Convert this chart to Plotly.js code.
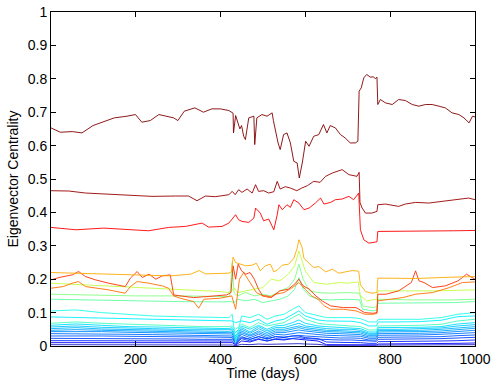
<!DOCTYPE html>
<html>
<head>
<meta charset="utf-8">
<script src="https://cdn.plot.ly/plotly-3.0.1.min.js"></script>
<style>html,body{margin:0;padding:0;background:#fff;}#chart{width:492px;height:381px;}</style>
</head>
<body>
<div id="chart"></div>
<script>
// ---- Top series ----
const xS1 = [1,23,51,74,100,130,150,180,200,215,235,255,270,290,300,315,340,360,380,400,420,430,431,436,446,450,455,459,467,479,481,486,498,510,522,525,536,541,549,557,565,573,581,586,593,601,609,620,632,643,651,659,671,683,694,706,718,724,727,732,738,745,753,761,765,769,771,777,789,805,820,836,852,868,883,899,915,930,946,962,974,986,994,1000];
const yS1 = [0.653,0.640,0.642,0.638,0.660,0.673,0.683,0.688,0.693,0.670,0.675,0.693,0.688,0.683,0.675,0.703,0.713,0.700,0.710,0.710,0.705,0.697,0.638,0.690,0.650,0.660,0.628,0.618,0.683,0.688,0.603,0.683,0.693,0.688,0.698,0.675,0.608,0.588,0.633,0.638,0.608,0.553,0.548,0.503,0.548,0.613,0.598,0.628,0.633,0.663,0.638,0.660,0.653,0.633,0.623,0.608,0.608,0.613,0.763,0.773,0.803,0.813,0.805,0.806,0.800,0.805,0.723,0.738,0.728,0.723,0.738,0.735,0.723,0.718,0.723,0.723,0.718,0.713,0.698,0.693,0.683,0.668,0.688,0.686];

const xS2 = [1,43,82,161,239,294,325,345,365,388,420,428,435,443,451,463,475,483,490,502,514,526,534,541,553,565,580,592,605,620,635,648,664,687,703,722,727,729,734,742,757,769,771,789,820,836,860,891,922,954,985,1000];
const yS2 = [0.465,0.464,0.458,0.453,0.448,0.449,0.449,0.435,0.449,0.447,0.453,0.463,0.453,0.468,0.460,0.470,0.458,0.483,0.463,0.465,0.458,0.462,0.493,0.470,0.477,0.473,0.465,0.473,0.480,0.493,0.490,0.508,0.518,0.528,0.513,0.508,0.520,0.430,0.413,0.398,0.398,0.403,0.423,0.425,0.418,0.425,0.430,0.428,0.433,0.436,0.443,0.438];

const xS3 = [1,60,125,161,231,278,318,357,372,404,420,436,443,451,467,479,483,494,502,514,526,534,538,546,557,565,573,585,597,609,624,636,644,660,671,687,703,714,722,726,730,738,750,765,769,771,805,860,900,950,1000];
const yS3 = [0.355,0.348,0.353,0.350,0.345,0.355,0.358,0.368,0.356,0.358,0.368,0.393,0.378,0.373,0.370,0.383,0.413,0.398,0.375,0.380,0.348,0.393,0.423,0.408,0.423,0.415,0.438,0.428,0.408,0.413,0.428,0.443,0.425,0.430,0.438,0.440,0.448,0.438,0.453,0.458,0.348,0.318,0.308,0.310,0.312,0.343,0.343,0.343,0.344,0.345,0.346];

// ---- Orange series ----
const xS4 = [1,100,200,280,330,350,365,400,420,426,430,436,448,460,475,485,494,506,518,526,535,546,561,573,581,585,592,597,609,620,632,648,664,679,695,711,726,730,742,757,769,771,805,860,922,960,1000];
const yS4 = [0.220,0.217,0.212,0.210,0.215,0.226,0.216,0.217,0.218,0.222,0.266,0.250,0.245,0.240,0.242,0.248,0.225,0.240,0.245,0.222,0.228,0.242,0.245,0.262,0.293,0.318,0.298,0.262,0.248,0.235,0.238,0.222,0.230,0.218,0.222,0.226,0.224,0.183,0.163,0.158,0.160,0.203,0.203,0.202,0.205,0.207,0.208];

const xS5 = [1,20,51,66,82,106,137,176,188,204,216,232,248,263,282,290,306,337,368,399,415,425,430,436,442,450,460,470,480,490,500,510,520,540,560,575,585,595,610,625,640,660,690,720,740,760,769,771,790,820,850,860,868,880,900,930,960,980,1000];
const yS5 = [0.198,0.205,0.213,0.223,0.208,0.198,0.188,0.178,0.203,0.223,0.205,0.215,0.200,0.210,0.213,0.153,0.150,0.145,0.148,0.150,0.153,0.160,0.240,0.200,0.245,0.225,0.215,0.220,0.200,0.170,0.150,0.150,0.145,0.165,0.170,0.185,0.200,0.180,0.170,0.150,0.135,0.120,0.115,0.115,0.100,0.098,0.100,0.155,0.155,0.165,0.190,0.225,0.195,0.190,0.175,0.180,0.195,0.215,0.200];

const xS6 = [1,30,51,66,82,137,176,188,204,232,263,278,290,306,337,349,361,399,427,431,436,445,455,470,485,500,515,530,550,570,585,600,615,630,645,660,690,720,740,760,769,771,800,830,860,900,940,970,1000];
const yS6 = [0.173,0.178,0.188,0.193,0.178,0.168,0.158,0.178,0.193,0.188,0.180,0.173,0.150,0.143,0.133,0.113,0.140,0.143,0.150,0.130,0.110,0.200,0.220,0.190,0.160,0.150,0.145,0.155,0.160,0.175,0.190,0.170,0.150,0.140,0.120,0.110,0.110,0.105,0.095,0.095,0.098,0.135,0.140,0.145,0.155,0.160,0.175,0.190,0.192];

// ---- Green series ----
const xS7 = [1,100,200,300,400,420,426,432,440,460,480,500,520,540,560,575,585,592,600,620,650,680,700,725,730,745,769,771,800,900,1000];
const yS7 = [0.188,0.182,0.175,0.168,0.163,0.160,0.165,0.175,0.160,0.165,0.170,0.175,0.200,0.195,0.215,0.240,0.285,0.255,0.225,0.190,0.185,0.190,0.188,0.192,0.150,0.135,0.140,0.165,0.165,0.165,0.168];

const xS8 = [1,100,200,300,400,422,428,432,440,460,480,500,520,540,560,575,585,595,610,630,660,700,728,735,760,769,771,850,950,1000];
const yS8 = [0.155,0.152,0.150,0.150,0.148,0.148,0.250,0.160,0.150,0.160,0.150,0.155,0.150,0.165,0.175,0.200,0.245,0.200,0.165,0.160,0.158,0.160,0.158,0.120,0.115,0.118,0.140,0.138,0.138,0.140];

const xS9 = [1,100,200,300,400,425,432,440,460,480,500,520,540,560,575,585,595,610,630,660,700,728,735,760,769,771,850,950,1000];
const yS9 = [0.140,0.137,0.135,0.133,0.132,0.133,0.130,0.140,0.135,0.140,0.130,0.135,0.140,0.150,0.170,0.205,0.170,0.150,0.140,0.138,0.140,0.138,0.110,0.105,0.108,0.128,0.128,0.130,0.133];

// ---- Low (cyan / blue) series, shared day grid ----
const xLow = [1,60,120,180,240,300,360,420,428,436,450,470,490,510,530,550,570,585,600,630,650,680,710,730,750,768,772,820,870,920,960,1000];
const yL1  = [0.105,0.108,0.100,0.095,0.090,0.088,0.086,0.085,0.095,0.010,0.090,0.085,0.095,0.080,0.090,0.095,0.110,0.120,0.100,0.090,0.085,0.085,0.085,0.082,0.072,0.072,0.080,0.080,0.080,0.085,0.095,0.100];
const yL2  = [0.087,0.086,0.083,0.082,0.080,0.078,0.076,0.075,0.075,0.070,0.075,0.070,0.080,0.065,0.075,0.080,0.095,0.105,0.090,0.078,0.075,0.075,0.074,0.070,0.060,0.060,0.072,0.072,0.073,0.077,0.088,0.090];
const yL3  = [0.068,0.072,0.068,0.065,0.062,0.060,0.058,0.058,0.060,0.050,0.065,0.055,0.070,0.060,0.065,0.070,0.085,0.095,0.080,0.068,0.065,0.062,0.060,0.058,0.048,0.048,0.060,0.060,0.062,0.065,0.075,0.080];
const yL4  = [0.062,0.066,0.062,0.058,0.057,0.055,0.053,0.052,0.055,0.040,0.060,0.050,0.062,0.050,0.060,0.062,0.070,0.078,0.068,0.060,0.058,0.056,0.055,0.052,0.042,0.042,0.055,0.055,0.056,0.058,0.066,0.070];
const yL5  = [0.057,0.060,0.056,0.053,0.052,0.050,0.049,0.048,0.050,0.030,0.055,0.042,0.058,0.045,0.055,0.055,0.062,0.068,0.060,0.054,0.052,0.050,0.050,0.047,0.038,0.038,0.050,0.050,0.052,0.054,0.060,0.064];
const yL6  = [0.052,0.055,0.051,0.049,0.048,0.046,0.045,0.044,0.045,0.025,0.050,0.038,0.052,0.040,0.050,0.050,0.055,0.060,0.055,0.050,0.047,0.046,0.045,0.043,0.035,0.035,0.046,0.046,0.047,0.050,0.055,0.058];
const yL7  = [0.047,0.049,0.047,0.045,0.044,0.042,0.041,0.040,0.040,0.020,0.045,0.033,0.045,0.035,0.045,0.045,0.050,0.055,0.050,0.045,0.043,0.042,0.041,0.039,0.031,0.031,0.042,0.042,0.043,0.045,0.050,0.053];
const yL8  = [0.043,0.044,0.043,0.041,0.040,0.038,0.037,0.036,0.036,0.015,0.040,0.030,0.040,0.030,0.040,0.040,0.045,0.048,0.045,0.040,0.038,0.037,0.036,0.034,0.027,0.027,0.037,0.037,0.038,0.040,0.044,0.047];
const yL9  = [0.037,0.037,0.036,0.035,0.034,0.033,0.032,0.031,0.030,0.012,0.035,0.025,0.035,0.025,0.035,0.033,0.038,0.040,0.038,0.034,0.032,0.031,0.031,0.029,0.023,0.023,0.032,0.032,0.033,0.035,0.038,0.040];
const yL10 = [0.030,0.031,0.030,0.029,0.029,0.028,0.027,0.026,0.025,0.010,0.028,0.020,0.028,0.020,0.028,0.027,0.030,0.032,0.030,0.028,0.025,0.024,0.024,0.023,0.018,0.018,0.026,0.026,0.027,0.028,0.031,0.033];
const yL11 = [0.023,0.023,0.022,0.022,0.021,0.021,0.020,0.020,0.020,0.008,0.022,0.015,0.022,0.015,0.022,0.020,0.024,0.025,0.022,0.020,0.018,0.018,0.018,0.017,0.014,0.014,0.020,0.020,0.021,0.022,0.024,0.026];
const yL12 = [0.016,0.016,0.015,0.015,0.015,0.014,0.014,0.014,0.015,0.005,0.025,0.020,0.028,0.022,0.028,0.025,0.030,0.030,0.025,0.022,0.012,0.011,0.011,0.010,0.008,0.008,0.013,0.013,0.014,0.015,0.016,0.018];
const yL13 = [0.010,0.010,0.009,0.009,0.009,0.008,0.008,0.008,0.010,0.003,0.015,0.012,0.020,0.015,0.020,0.018,0.022,0.020,0.018,0.015,0.004,0.004,0.004,0.004,0.003,0.003,0.006,0.006,0.006,0.007,0.008,0.009];
const yL14 = [0.004,0.004,0.004,0.003,0.003,0.003,0.003,0.003,0.003,0.001,0.005,0.004,0.006,0.005,0.006,0.006,0.007,0.007,0.006,0.005,0.002,0.002,0.002,0.002,0.002,0.002,0.003,0.003,0.003,0.003,0.004,0.004];

const xTicks = [200,400,600,800,1000];
const yTicks = [0,0.1,0.2,0.3,0.4,0.5,0.6,0.7,0.8,0.9,1];

const series = [
  [xLow, yL14, '#2020C8'], [xLow, yL13, '#0000FF'], [xLow, yL12, '#0020FF'],
  [xLow, yL11, '#0040FF'], [xLow, yL10, '#0058FF'], [xLow, yL9, '#0070FF'],
  [xLow, yL8, '#0088FF'], [xLow, yL7, '#00A0FF'], [xLow, yL6, '#00B4FF'],
  [xLow, yL5, '#00C8FF'], [xLow, yL4, '#00DCFF'], [xLow, yL3, '#40FFC0'],
  [xLow, yL2, '#00F0FF'], [xLow, yL1, '#20FFE8'],
  [xS9, yS9, '#60FF9F'], [xS8, yS8, '#80FF80'], [xS7, yS7, '#BFFF40'],
  [xS6, yS6, '#FF7000'], [xS5, yS5, '#FF3000'], [xS4, yS4, '#FFAA00'],
  [xS3, yS3, '#FF0000'], [xS2, yS2, '#990000'], [xS1, yS1, '#800000']
];

const traces = series.map(s => ({
  x: s[0], y: s[1], type: 'scatter', mode: 'lines',
  line: {color: s[2], width: 0.9}, hoverinfo: 'skip', showlegend: false
}));

const fontFam = 'Liberation Sans, Arial, sans-serif';
const fs = 14;
const layout = {
  width: 492, height: 381,
  margin: {l: 51, r: 17, t: 12, b: 35, pad: 0},
  paper_bgcolor: '#fff', plot_bgcolor: '#fff',
  showlegend: false,
  font: {family: fontFam, size: fs, color: '#000'},
  xaxis: {
    range: [1, 1000], tickvals: xTicks, ticktext: xTicks.map(String),
    ticks: 'inside', ticklen: 5, tickcolor: '#000', tickwidth: 1,
    showline: true, linecolor: '#000', linewidth: 1, mirror: 'ticks',
    showgrid: false, zeroline: false,
    tickfont: {family: fontFam, size: fs, color: '#000'},
    title: {text: 'Time (days)', font: {family: fontFam, size: fs, color: '#000'}, standoff: 1}
  },
  yaxis: {
    range: [0, 1], tickvals: yTicks, ticktext: yTicks.map(String),
    ticks: 'inside', ticklen: 5, tickcolor: '#000', tickwidth: 1,
    showline: true, linecolor: '#000', linewidth: 1, mirror: 'ticks',
    showgrid: false, zeroline: false,
    tickfont: {family: fontFam, size: fs, color: '#000'},
    title: {text: 'Eigenvector Centrality', font: {family: fontFam, size: fs, color: '#000'}, standoff: 5}
  }
};

Plotly.newPlot('chart', traces, layout, {staticPlot: true, displayModeBar: false});
</script>
</body>
</html>
